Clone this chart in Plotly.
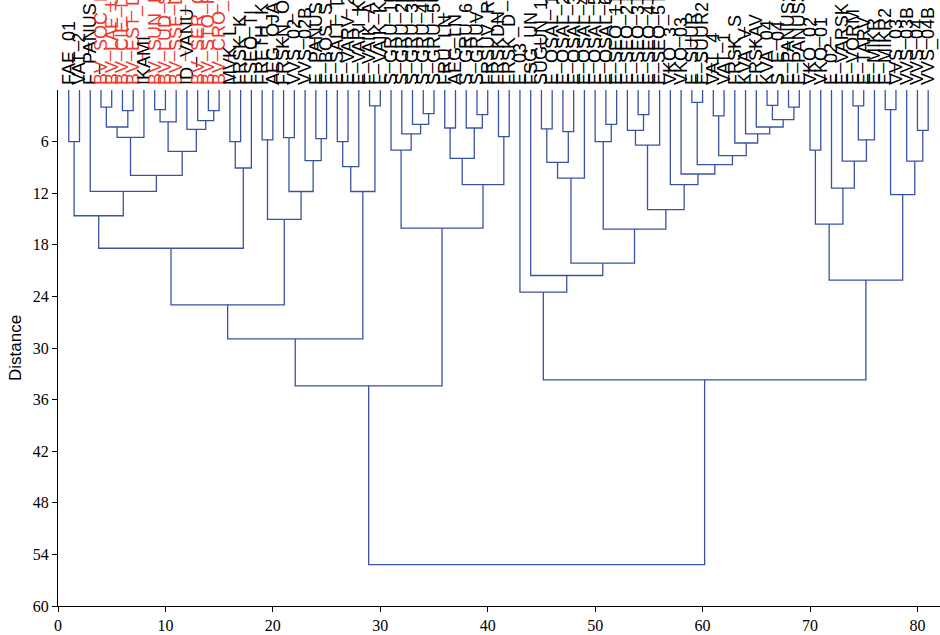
import plotly.graph_objects as go

# ---------------- data ----------------
leaf_labels = [
    "FAE_01", "VAT_2", "F_PANUS", "BV_SOC_P", "BV_LAE_U", "BV_CIE_T", "BV_EST_D", "IKAMI",
    "BV_SUN_P", "BV_LUD_S", "BV_SSE_D", "ID_VANU", "BV_SER_O", "BV_STO_R", "BV_CRO_O", "MVK_L",
    "FRSK_K", "FSEQ_TI", "FRETH_K", "AEG_OJA", "FRSKN_O", "VVS_02", "VVS_02B", "E_PANUS",
    "E_BOS_S", "E_SALT_T", "E_VARV_2", "E_VARI_K", "F_VAIK_A", "E_VAIK_K", "S_GRU_1U", "S_GRU_2U",
    "S_GRU_3U", "S_GRU_4U", "S_GRU_5U", "FRU_LN", "AEG_LN", "S_GRU_6", "S_GRUV_Y", "FRSUV_R",
    "FRSKDN_K", "FRSK_D", "E_03", "FSG_UN", "SUGUN_1", "E_OSAL_1L", "E_OSAL_2L", "E_OSAL_3L",
    "E_OSAL_4L", "E_OSAL_5L", "E_OSAL_6L", "E_SEO_1T", "E_SEO_2T", "E_SEO_3T", "E_SEO_4T", "E_SEO_5T",
    "VKO_3", "VKO_03", "E_SUUR", "E_SUUR2", "VAT_4", "VAT_1", "FRSK_S", "KVA_V",
    "FRSKAV", "KVA_04", "S_E_04", "E_PANUS2", "E_PANUS3", "VKO_02", "VKO_01", "E_02",
    "E_VARSK", "E_VORM", "E_TARV", "E_MIKR", "E_MIKR2", "VVS_03", "VVS_03B", "VVS_04",
    "VVS_04B",
]
red_leaves = [4, 5, 6, 7, 9, 10, 11, 13, 14, 15]

# each merge joins leaves first..split with split+1..last at a given distance
merge_first = [1, 4, 6, 4, 4, 9, 9, 14, 13, 12, 9, 4, 3, 1, 16, 16, 1, 19, 21, 24, 23, 21, 19, 1,
               26, 26, 29, 26, 1, 34, 33, 32, 31, 36, 39, 38, 36, 41, 36, 31, 1,
               45, 47, 45, 45, 51, 50, 54, 53, 53, 59, 61, 66, 68, 66, 65, 64, 63, 61, 59, 58,
               57, 53, 50, 45, 44, 43, 70, 74, 74, 73, 72, 70, 77, 80, 79, 77, 70, 43, 1]
merge_split = [1, 4, 6, 5, 7, 9, 10, 14, 13, 12, 11, 8, 3, 2, 16, 17, 15, 19, 21, 24, 23, 22, 20, 18,
               26, 27, 29, 28, 25, 34, 33, 32, 31, 36, 39, 38, 37, 41, 40, 35, 30,
               45, 47, 46, 48, 51, 50, 54, 53, 55, 59, 61, 66, 68, 67, 65, 64, 63, 62, 60, 58,
               57, 56, 52, 49, 44, 43, 70, 74, 75, 73, 72, 71, 77, 80, 79, 78, 76, 69, 42]
merge_last = [2, 5, 7, 7, 8, 10, 11, 15, 15, 15, 15, 15, 15, 15, 17, 18, 18, 20, 22, 25, 25, 25, 25, 25,
              27, 28, 30, 30, 30, 35, 35, 35, 35, 37, 40, 40, 40, 42, 42, 42, 42,
              46, 48, 48, 49, 52, 52, 55, 55, 56, 60, 62, 67, 69, 69, 69, 69, 69, 69, 69, 69,
              69, 69, 69, 69, 69, 69, 71, 75, 76, 76, 76, 76, 78, 81, 81, 81, 81, 81, 81]
merge_height = [6.0, 2.0, 2.4, 4.3, 5.5, 2.28, 3.7, 2.4, 3.56, 4.57, 7.13, 9.93, 11.79, 14.62,
                6.0, 9.07, 18.4, 5.8, 5.54, 5.66, 8.22, 11.8, 15.05, 24.98,
                6.0, 8.92, 1.85, 11.8, 28.94, 2.75, 3.99, 5.11, 7.0, 4.42, 2.86, 4.42, 7.95,
                5.42, 11.0, 16.06, 34.4,
                4.53, 4.84, 8.41, 10.24, 3.99, 6.0, 2.86, 4.69, 6.4, 1.43, 3.0, 1.78, 2.0,
                3.45, 4.3, 5.11, 6.16, 7.63, 8.68, 9.77, 11.0, 13.9, 16.17, 20.13, 21.57,
                23.5, 6.98, 1.85, 5.81, 8.26, 11.4, 15.6, 2.28, 4.69, 8.26, 12.17, 22.1,
                33.7, 55.2]

x_ticks = [0, 10, 20, 30, 40, 50, 60, 70, 80]
y_ticks = [6, 12, 18, 24, 30, 36, 42, 48, 54, 60]

# ---------------- build dendrogram links ----------------
LINE = "#3953A4"
RED = "#EE3B2E"

node = {(i, i): (float(i), 0.0) for i in range(1, len(leaf_labels) + 1)}
pending = list(zip(merge_first, merge_split, merge_last, merge_height))
xs, ys = [], []
while pending:
    rest = []
    for a, m, b, h in pending:
        if (a, m) in node and (m + 1, b) in node:
            xl, hl = node[(a, m)]
            xr, hr = node[(m + 1, b)]
            xs += [xl, xl, xr, xr, None]
            ys += [hl, h, h, hr, None]
            node[(a, b)] = ((xl + xr) / 2.0, h)
        else:
            rest.append((a, m, b, h))
    if len(rest) == len(pending):
        break
    pending = rest

leaf_pos = list(range(1, len(leaf_labels) + 1))
tick_text = [
    f'<span style="color:{RED}">{t}</span>' if i in red_leaves else t
    for i, t in zip(leaf_pos, leaf_labels)
]

fig = go.Figure()
fig.add_trace(go.Scatter(
    x=xs, y=ys, mode="lines",
    line=dict(color=LINE, width=1.3),
    hoverinfo="skip", showlegend=False,
))
fig.add_trace(go.Scatter(
    x=leaf_pos, y=[0] * len(leaf_pos), xaxis="x2", mode="markers",
    marker=dict(opacity=0), hoverinfo="skip", showlegend=False,
))

serif = "Liberation Serif, Times New Roman, serif"
sans = "Liberation Sans, Arial, sans-serif"
xr_ = [0, 82.1]

fig.update_layout(
    width=940, height=635,
    margin=dict(l=58, r=0, t=90, b=29, autoexpand=False),
    paper_bgcolor="white", plot_bgcolor="white",
    xaxis=dict(
        range=xr_, tickvals=x_ticks, ticks="outside", ticklen=5, tickwidth=1.2,
        tickcolor="black", showline=True, linecolor="black", linewidth=1.3,
        showgrid=False, zeroline=False, automargin=False,
        tickfont=dict(family=serif, size=16, color="black"),
        ticklabelstandoff=0,
    ),
    xaxis2=dict(
        range=xr_, overlaying="x", side="top", anchor="y",
        tickvals=leaf_pos, ticktext=tick_text, tickangle=-90,
        ticks="", showline=False, showgrid=False, zeroline=False, automargin=False,
        tickfont=dict(family=sans, size=18, color="black"),
        ticklabelstandoff=4,
    ),
    yaxis=dict(
        range=[60, 0], tickvals=y_ticks, ticks="outside", ticklen=5, tickwidth=1.2,
        tickcolor="black", showline=True, linecolor="black", linewidth=1.3,
        showgrid=False, zeroline=False, automargin=False,
        tickfont=dict(family=serif, size=16, color="black"),
        title=dict(text="Distance", font=dict(family=sans, size=17, color="black"),
                   standoff=6),
    ),
)

fig.write_html(
    "out.html",
    config={"displayModeBar": False},
    post_script="document.body.style.margin='0';document.body.style.overflow='hidden';",
)
